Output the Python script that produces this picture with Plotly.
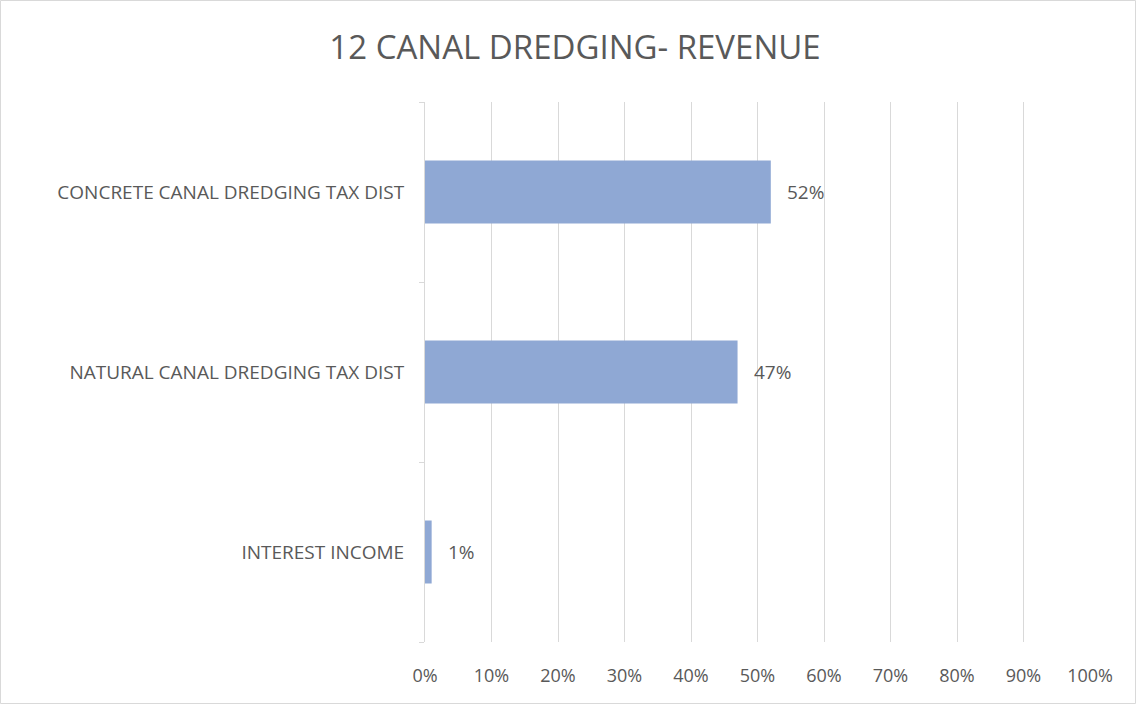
import plotly.graph_objects as go

# Revenue shares by source (percent)
categories = ["CONCRETE CANAL DREDGING TAX DIST", "NATURAL CANAL DREDGING TAX DIST", "INTEREST INCOME"]
shares = [52, 47, 1]
x_ticks = list(range(0, 101, 10))
x_tick_labels = [f"{v}%" for v in x_ticks]

W, H = 1136, 704
M_L, M_R, M_T, M_B = 425, 46, 102, 62
TEXT = "#595959"
GRID = "#d9d9d9"
FONT = "'Open Sans', sans-serif"

fig = go.Figure()
fig.add_trace(go.Bar(
    y=categories,
    x=shares,
    orientation="h",
    width=0.35,
    marker=dict(color="#8FA8D4", line=dict(width=0)),
    hoverinfo="skip",
))

for cat, val in zip(categories, shares):
    fig.add_annotation(
        x=val, y=cat, text=f"{val}%", showarrow=False,
        xanchor="left", yanchor="middle", xshift=14,
        font=dict(family=FONT, size=19, color=TEXT),
    )

pw, ph = W - M_L - M_R, H - M_T - M_B
fig.add_shape(
    type="rect", xref="paper", yref="paper",
    x0=(-M_L + 0.5) / pw, x1=(pw + M_R - 0.5) / pw,
    y0=(-M_B + 0.5) / ph, y1=(ph + M_T - 0.5) / ph,
    line=dict(color=GRID, width=1), fillcolor="rgba(0,0,0,0)", layer="below",
)

fig.update_layout(
    width=W, height=H,
    margin=dict(l=M_L, r=M_R, t=M_T, b=M_B),
    paper_bgcolor="white", plot_bgcolor="white",
    showlegend=False,
    title=dict(
        text="12 CANAL DREDGING- REVENUE",
        x=575 / W, xref="container", xanchor="center",
        y=1 - 47 / H, yref="container", yanchor="middle",
        font=dict(family=FONT, size=33, color=TEXT),
    ),
    xaxis=dict(
        range=[0, 100], tickvals=x_ticks, ticktext=x_tick_labels,
        showgrid=True, gridcolor=GRID, gridwidth=1,
        zeroline=False, showline=False, ticks="",
        tickfont=dict(family=FONT, size=18, color=TEXT),
        ticklabelstandoff=21,
    ),
    yaxis=dict(
        categoryorder="array", categoryarray=categories[::-1],
        showgrid=False, zeroline=False,
        showline=True, linecolor=GRID, linewidth=1,
        ticks="outside", ticklen=5, tickcolor=GRID, tickson="boundaries",
        tickfont=dict(family=FONT, size=19, color=TEXT),
        ticklabelstandoff=16,
    ),
)

fig.write_html("out.html")
